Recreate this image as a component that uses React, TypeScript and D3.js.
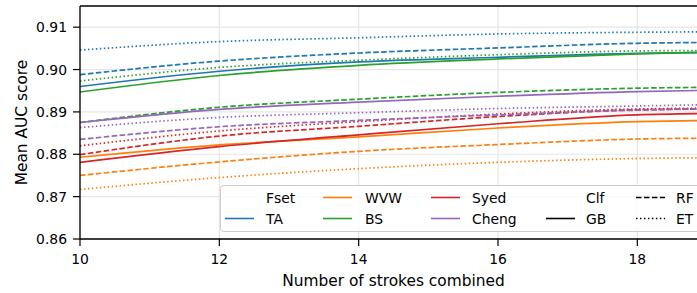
import React from "react";
import * as d3 from "d3";

const xs = [10, 12, 14, 16, 18, 19];
const fsets = ["TA", "WVW", "BS", "Syed", "Cheng"];
const fsetColors = ["#1f77b4", "#ff7f0e", "#2ca02c", "#d62728", "#9467bd"];
const clfs = ["GB", "RF", "ET"];

const TA_GB = [0.896, 0.8996, 0.9018, 0.9029, 0.9038, 0.904];
const TA_RF = [0.8988, 0.902, 0.9039, 0.9051, 0.9062, 0.9064];
const TA_ET = [0.9046, 0.9066, 0.9075, 0.9084, 0.9088, 0.9089];
const WVW_GB = [0.8793, 0.8822, 0.8841, 0.8862, 0.8877, 0.888];
const WVW_RF = [0.875, 0.8782, 0.8807, 0.8823, 0.8836, 0.8838];
const WVW_ET = [0.8717, 0.8745, 0.8766, 0.8781, 0.879, 0.8792];
const BS_GB = [0.8947, 0.8986, 0.901, 0.9025, 0.9037, 0.9041];
const BS_RF = [0.8875, 0.8911, 0.893, 0.8946, 0.8956, 0.8958];
const BS_ET = [0.8973, 0.9005, 0.9022, 0.9035, 0.9044, 0.9045];
const SYED_GB = [0.8781, 0.8818, 0.8846, 0.8872, 0.8893, 0.8896];
const SYED_RF = [0.8799, 0.8843, 0.8866, 0.8889, 0.8905, 0.8907];
const SYED_ET = [0.882, 0.8855, 0.8877, 0.8895, 0.8907, 0.8909];
const CHENG_GB = [0.8875, 0.8906, 0.8923, 0.8937, 0.8948, 0.8951];
const CHENG_RF = [0.8835, 0.8865, 0.888, 0.8893, 0.8904, 0.8907];
const CHENG_ET = [0.8863, 0.8887, 0.8898, 0.8908, 0.8914, 0.8917];

const seriesTable: number[][][] = [
  [TA_GB, TA_RF, TA_ET],
  [WVW_GB, WVW_RF, WVW_ET],
  [BS_GB, BS_RF, BS_ET],
  [SYED_GB, SYED_RF, SYED_ET],
  [CHENG_GB, CHENG_RF, CHENG_ET],
];

const xTicks = [10, 12, 14, 16, 18];
const yTicks = [0.86, 0.87, 0.88, 0.89, 0.9, 0.91];

const W = 697;
const H = 293;
const FONT = "DejaVu Sans, sans-serif";

export default function App() {
  const left = 80, right = 707, top = 6, bottom = 239;
  const x = d3.scaleLinear().domain([10, 19]).range([left, right]);
  const y = d3.scaleLinear().domain([0.86, 0.915]).range([bottom, top]);
  const line = d3
    .line<[number, number]>()
    .x((d) => x(d[0]))
    .y((d) => y(d[1]))
    .curve(d3.curveMonotoneX);
  const dash = (c: string) => (c === "RF" ? "5.55,2.4" : c === "ET" ? "1.5,2.475" : undefined);

  const legCols = [
    { hx: 225, tx: 266, rows: [{ label: "Fset" }, { label: "TA", color: fsetColors[0] }] },
    { hx: 323, tx: 365, rows: [{ label: "WVW", color: fsetColors[1] }, { label: "BS", color: fsetColors[2] }] },
    { hx: 431, tx: 472, rows: [{ label: "Syed", color: fsetColors[3] }, { label: "Cheng", color: fsetColors[4] }] },
    { hx: 546, tx: 586, rows: [{ label: "Clf" }, { label: "GB", color: "#000", d: undefined }] },
    { hx: 636, tx: 676, rows: [{ label: "RF", color: "#000", d: dash("RF") }, { label: "ET", color: "#000", d: dash("ET") }] },
  ];
  const rowY = [197.5, 218.5];

  return (
    <svg
      width={W}
      height={H}
      style={{ position: "absolute", left: 0, top: 0, background: "#fff" }}
      fontFamily={FONT}
    >
      <defs>
        <clipPath id="plotclip">
          <rect x={left} y={top} width={right - left} height={bottom - top} />
        </clipPath>
      </defs>
      {yTicks.map((t) => (
        <line key={"gy" + t} x1={left} x2={right} y1={y(t)} y2={y(t)} stroke="#e6e6e6" strokeWidth={1.2} />
      ))}
      {xTicks.map((t) => (
        <line key={"gx" + t} x1={x(t)} x2={x(t)} y1={top} y2={bottom} stroke="#e6e6e6" strokeWidth={1.2} />
      ))}
      <g clipPath="url(#plotclip)">
        {fsets.map((f, fi) =>
          clfs.map((c, ci) => {
            const pts = xs.map((xv, i) => [xv, seriesTable[fi][ci][i]] as [number, number]);
            return (
              <path
                key={f + c}
                d={line(pts) || ""}
                fill="none"
                stroke={fsetColors[fi]}
                strokeWidth={1.7}
                strokeDasharray={dash(c)}
              />
            );
          })
        )}
      </g>
      <rect x={220.5} y={185.5} width={490} height={46} rx={3} fill="#fff" fillOpacity={0.8} stroke="#cccccc" strokeWidth={1} />
      {legCols.map((col, ci) =>
        col.rows.map((r: any, ri) => (
          <g key={"lg" + ci + "_" + ri}>
            {r.color && (
              <line
                x1={col.hx}
                x2={col.hx + 29}
                y1={rowY[ri]}
                y2={rowY[ri]}
                stroke={r.color}
                strokeWidth={1.6}
                strokeDasharray={r.d}
              />
            )}
            <text x={col.tx} y={rowY[ri] + 5} fontSize={13.9} fill="#000">
              {r.label}
            </text>
          </g>
        ))
      )}
      <line x1={left} x2={left} y1={top} y2={bottom} stroke="#000" strokeWidth={1.3} />
      <line x1={left} x2={right} y1={bottom} y2={bottom} stroke="#000" strokeWidth={1.3} />
      <line x1={left} x2={right} y1={top} y2={top} stroke="#000" strokeWidth={1.3} />
      {yTicks.map((t) => (
        <g key={"yt" + t}>
          <line x1={left - 7} x2={left} y1={y(t)} y2={y(t)} stroke="#000" strokeWidth={1.2} />
          <text x={left - 13} y={y(t) + 5} textAnchor="end" fontSize={13.9} fill="#000">
            {d3.format(".2f")(t)}
          </text>
        </g>
      ))}
      {xTicks.map((t) => (
        <g key={"xt" + t}>
          <line x1={x(t)} x2={x(t)} y1={bottom} y2={bottom + 7} stroke="#000" strokeWidth={1.2} />
          <text x={x(t)} y={bottom + 25} textAnchor="middle" fontSize={13.9} fill="#000">
            {t}
          </text>
        </g>
      ))}
      <text x={(left + right) / 2} y={286} textAnchor="middle" fontSize={15.4} fill="#000">
        Number of strokes combined
      </text>
      <text
        transform={`translate(27, ${(top + bottom) / 2}) rotate(-90)`}
        textAnchor="middle"
        fontSize={15.4}
        fill="#000"
      >
        Mean AUC score
      </text>
    </svg>
  );
}
